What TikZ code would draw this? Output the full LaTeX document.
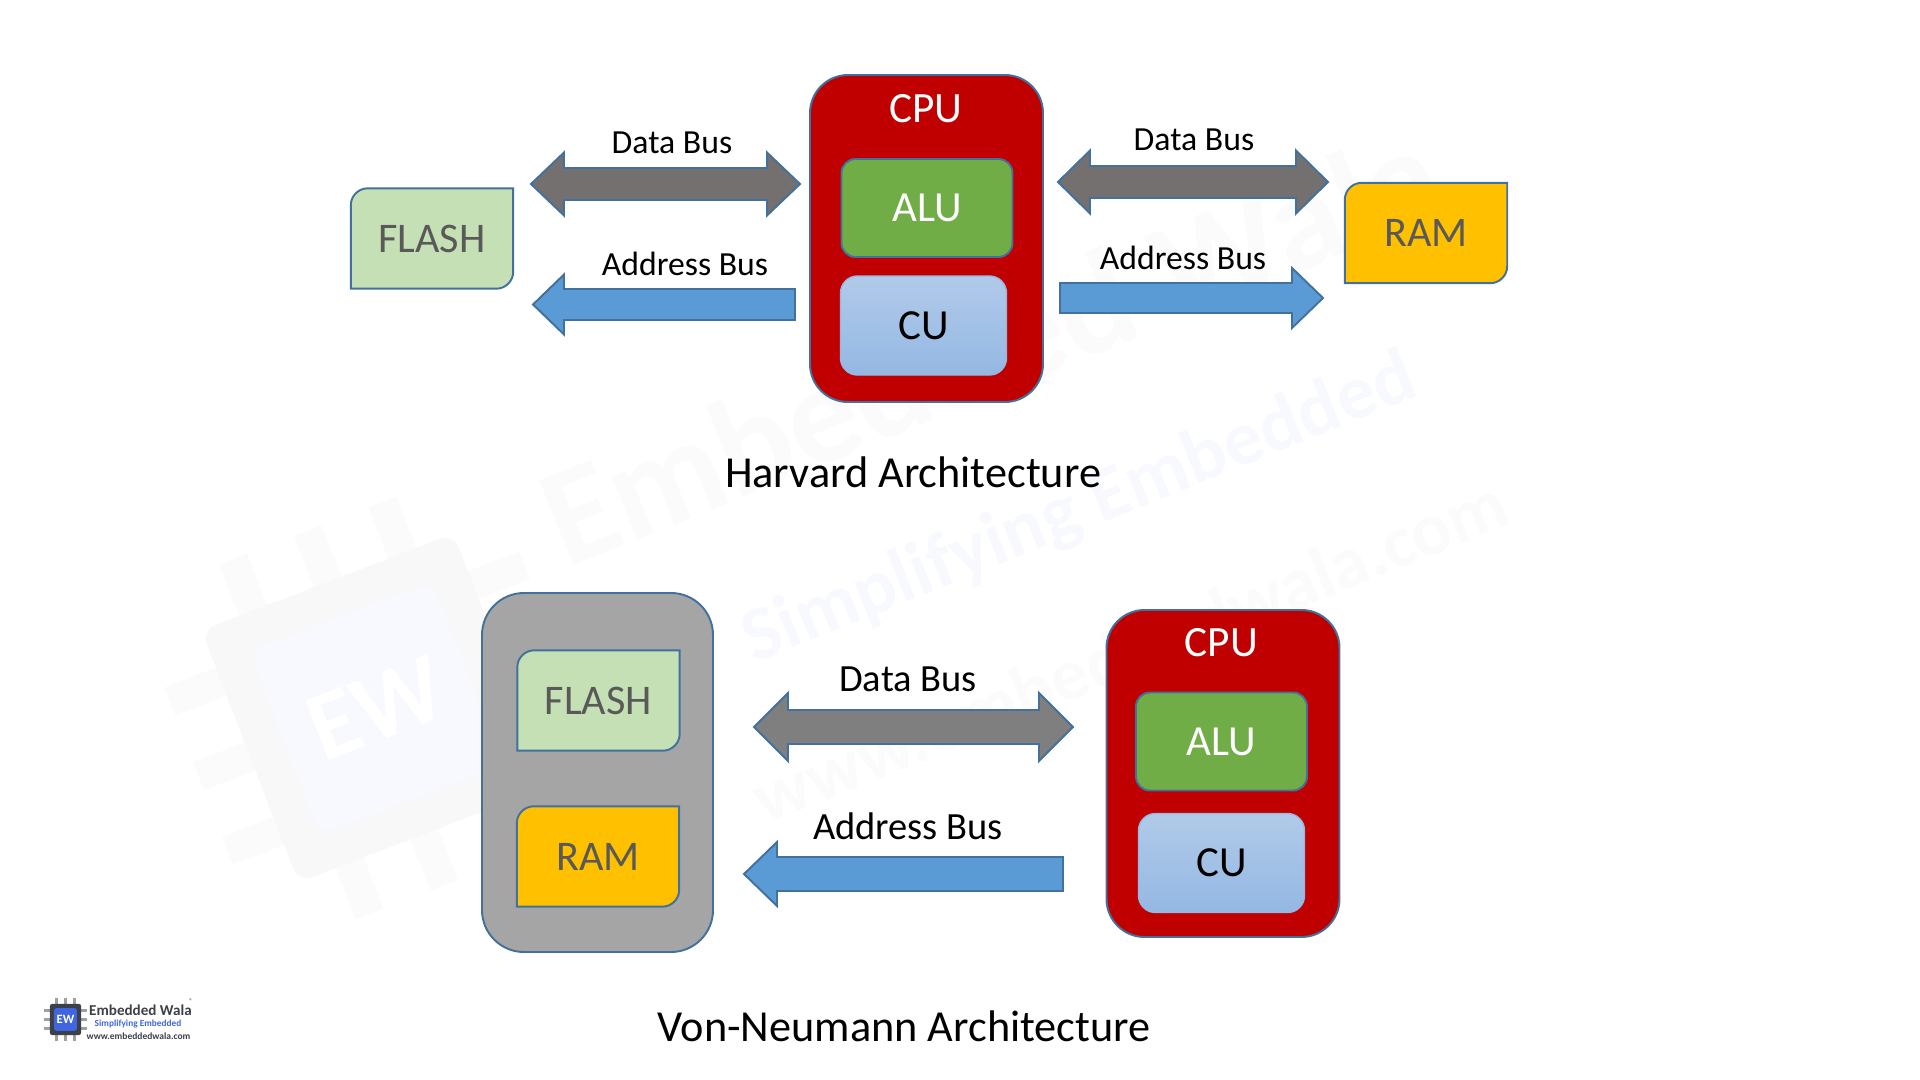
\documentclass[tikz,border=0pt]{standalone}
\usepackage{fontspec}
\setmainfont{Carlito}
\usepackage{tikz}
\usetikzlibrary{positioning, calc, backgrounds}
\pgfdeclarelayer{snip}
\pgfsetlayers{background,snip,main}
\definecolor{BusEdge}{HTML}{41719C}
\definecolor{BusGrayA}{HTML}{757070}
\definecolor{BusGrayB}{HTML}{7F7F7F}
\definecolor{BusBlue}{HTML}{5B9BD5}
\definecolor{CpuRed}{HTML}{C00000}
\definecolor{AluGreen}{HTML}{70AD47}
\definecolor{CuTop}{HTML}{B1CAE9}
\definecolor{CuBottom}{HTML}{94B8E3}
\definecolor{FlashGreen}{HTML}{C5E0B4}
\definecolor{RamYellow}{HTML}{FFC000}
\definecolor{MemGray}{HTML}{A5A5A5}
\definecolor{MemText}{HTML}{595959}
\definecolor{WmGray}{HTML}{FBFBFB}
\definecolor{WmBody}{HTML}{F8F8F8}
\definecolor{WmBlue}{HTML}{F7F9FE}
\definecolor{LogoDark}{HTML}{3C4048}
\definecolor{LogoBlue}{HTML}{3F66E0}
\definecolor{LogoPin}{HTML}{A0A0A0}
\newcommand{\ewchip}[4]{
  \foreach \p in {-8,0,8} {
    \fill[#2] (\p-1.5,-19) rectangle (\p+1.5,19);
    \fill[#2] (-19,\p-1.5) rectangle (19,\p+1.5);
  }
  \fill[#1, rounded corners=#4] (-13.5,-13.5) rectangle (13.5,13.5);
  \fill[#3, rounded corners=#4] (-9.8,-9.8) rectangle (9.8,9.8);
}

\begin{document}
\begin{tikzpicture}[
    x=1mm, y=-1mm,
    edge/.style={draw=BusEdge, line width=0.55pt},
    cpubox/.style={edge, fill=CpuRed, rounded corners=3.8mm, minimum width=23.3mm, minimum height=32.7mm},
    alubox/.style={edge, fill=AluGreen, rounded corners=1.4mm, minimum width=17.1mm, minimum height=9.8mm, text=white, font=\fontsize{12.2}{14}\selectfont},
    cubox/.style={draw=CuBottom, line width=0.4pt, top color=CuTop, bottom color=CuBottom, rounded corners=1.7mm, minimum width=16.6mm, minimum height=9.9mm, font=\fontsize{12.2}{14}\selectfont},
    membox/.style={minimum width=16.1mm, minimum height=9.9mm, inner sep=0pt, text=MemText, font=\fontsize{12}{14}\selectfont,
      append after command={\pgfextra{\begin{pgfonlayer}{snip}
        \draw[edge, fill=#1] (\tikzlastnode.north) [rounded corners=1.7mm] -- (\tikzlastnode.north west) -- (\tikzlastnode.west) [sharp corners] -- (\tikzlastnode.south west) -- (\tikzlastnode.south) [rounded corners=1.7mm] -- (\tikzlastnode.south east) -- (\tikzlastnode.east) [sharp corners] -- (\tikzlastnode.north east) -- cycle;
      \end{pgfonlayer}}}},
    title/.style={font=\fontsize{12.6}{15}\selectfont, inner sep=0pt},
    buslabel/.style={font=\fontsize{9.6}{12}\selectfont, inner sep=0pt},
    buslabelbig/.style={font=\fontsize{10.95}{13}\selectfont, inner sep=0pt},
    cputext/.style={text=white, font=\fontsize{12.3}{14}\selectfont, inner sep=0pt},
    databus/.style n args={4}{edge, fill=#1, to path={
      -- ++(#2,#3) -- ++(0,-#3+#4) -- ($(\tikztotarget)+(-#2,#4)$) -- ++(0,#3-#4) -- (\tikztotarget)
      -- ++(-#2,-#3) -- ++(0,#3-#4) -- ($(\tikztostart)+(#2,-#4)$) -- ++(0,-#3+#4) -- cycle}},
    addrbus/.style n args={3}{edge, fill=BusBlue, to path={
      -- ++(0,#3) -- ($(\tikztotarget)+(#1,#3)$) -- ++(0,#2-#3) -- (\tikztotarget)
      -- ($(\tikztotarget)+(#1,-#2)$) -- ++(0,#2-#3) -- ($(\tikztostart)+(0,-#3)$) -- cycle}},
    wmtext/.style={text=WmGray, inner sep=0pt, rotate=22}
]
\useasboundingbox (0,0) rectangle (192,108);

\begin{scope}[on background layer]
\begin{scope}[shift={(37.6,70.8)}, rotate=21]
\ewchip{WmBody}{WmGray}{WmBlue}{1.5mm}
\node[text=white, font=\fontsize{28}{32}\selectfont\bfseries, inner sep=0pt, rotate=21] (wmew) at (0,0) {EW};
\end{scope}
\node[wmtext, font=\fontsize{40}{44}\selectfont\bfseries] (wmname) at (99,34.5) {Embedded Wala};
\node[wmtext, text=WmBlue, font=\fontsize{22}{26}\selectfont\bfseries] (wmslogan) at (108,51) {Simplifying Embedded};
\node[wmtext, font=\fontsize{21}{25}\selectfont\bfseries] (wmsite) at (113,65) {www.embeddedwala.com};
\node[edge, fill=MemGray, rounded corners=4.2mm, minimum width=23.1mm, minimum height=35.9mm] (mem) at (59.75,77.25) {};
\end{scope}

\node[membox=FlashGreen] (flash1) at (43.2,23.85) {FLASH};
\node[cpubox] (cpu1) at (92.65,23.85) {};
\node[cputext] (cpu1text) at (92.6,10.9) {CPU};
\node[alubox] (alu1) at (92.7,20.8) {ALU};
\node[cubox] (cu1) at (92.35,32.55) {CU};
\node[membox=RamYellow] (ram1) at (142.6,23.3) {RAM};

\coordinate (d1a) at (53.1,18.4);
\coordinate (d1b) at (80,18.4);
\coordinate (a1a) at (79.5,30.45);
\coordinate (a1b) at (53.3,30.45);
\coordinate (d2a) at (105.8,18.2);
\coordinate (d2b) at (132.8,18.2);
\coordinate (a2a) at (106,29.8);
\coordinate (a2b) at (132.3,29.8);
\draw[databus={BusGrayA}{3.3}{3.15}{1.6}] (d1a) to (d1b);
\draw[addrbus={3.1}{3}{1.55}] (a1a) to (a1b);
\draw[databus={BusGrayA}{3.2}{3.15}{1.6}] (d2a) to (d2b);
\draw[addrbus={-3.1}{3}{1.5}] (a2a) to (a2b);
\node[buslabel] (d1text) at (67.2,14.3) {Data Bus};
\node[buslabel] (a1text) at (68.5,26.4) {Address Bus};
\node[buslabel] (d2text) at (119.4,14) {Data Bus};
\node[buslabel] (a2text) at (118.3,25.8) {Address Bus};
\node[title] (harvard) at (91.3,47.2) {Harvard Architecture};

\node[membox=FlashGreen] (flash2) at (59.85,70.05) {FLASH};
\node[membox=RamYellow] (ram2) at (59.8,85.65) {RAM};
\node[cpubox] (cpu2) at (122.3,77.35) {};
\node[cputext] (cpu2text) at (122.15,64.3) {CPU};
\node[alubox] (alu2) at (122.15,74.15) {ALU};
\node[cubox] (cu2) at (122.15,86.3) {CU};

\coordinate (d3a) at (75.4,72.7);
\coordinate (d3b) at (107.3,72.7);
\coordinate (a3a) at (106.3,87.4);
\coordinate (a3b) at (74.4,87.4);
\draw[databus={BusGrayB}{3.4}{3.4}{1.7}] (d3a) to (d3b);
\draw[addrbus={3.3}{3.2}{1.7}] (a3a) to (a3b);
\node[buslabelbig] (d3text) at (90.8,67.95) {Data Bus};
\node[buslabelbig] (a3text) at (90.8,82.6) {Address Bus};
\node[title] (neumann) at (90.4,102.6) {Von-Neumann Architecture};

\begin{scope}[shift={(6.55,101.95)}, rotate=0, scale=0.115]
\ewchip{LogoDark}{LogoPin}{LogoBlue}{0.2mm}
\end{scope}
\node[text=white, font=\fontsize{3.6}{4}\selectfont\bfseries, inner sep=0pt] (logoew) at (6.55,101.95) {EW};
\node[text=LogoDark, font=\fontsize{4.3}{5}\selectfont\bfseries, inner sep=0pt] (logoname) at (14.05,101) {Embedded Wala};
\node[text=LogoBlue, font=\fontsize{2.65}{3}\selectfont\bfseries, inner sep=0pt] (logoslogan) at (13.8,102.4) {Simplifying Embedded};
\node[text=LogoDark, font=\fontsize{2.7}{3}\selectfont\bfseries, inner sep=0pt] (logosite) at (13.85,103.6) {www.embeddedwala.com};
\node[text=LogoDark, font=\fontsize{2}{2}\selectfont, inner sep=0pt] (logoreg) at (19.1,100.1) {®};
\end{tikzpicture}
\end{document}
